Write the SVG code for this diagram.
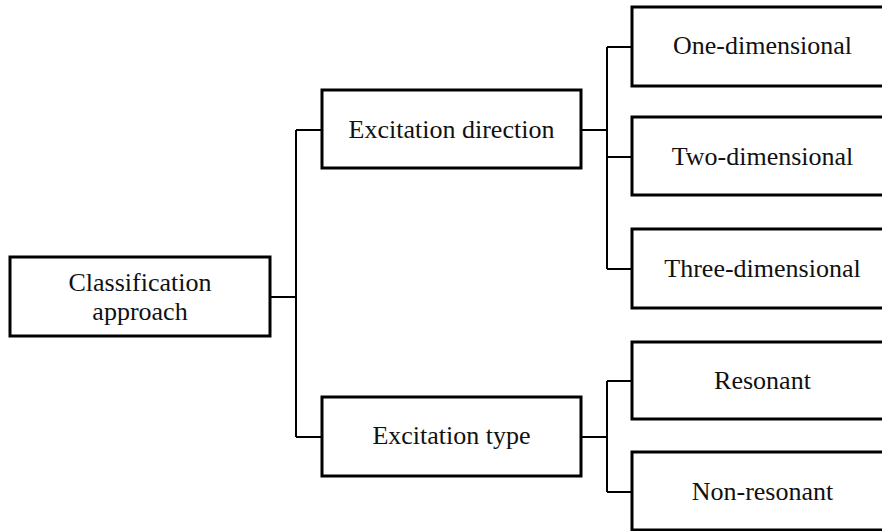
<svg xmlns="http://www.w3.org/2000/svg" width="882" height="531" viewBox="0 0 882 531">
<style>
.box{fill:#fff;stroke:#000;stroke-width:3}
.lbl{font-family:"Liberation Serif","Times New Roman",serif;font-size:26px;fill:#111;text-anchor:middle}
.con{fill:none;stroke:#000;stroke-width:2}
</style>
<rect width="882" height="531" fill="#fff"/>
<g id="connectors">
<path class="con" d="M270 297H296M296 130V437M296 130H322M296 437H322"/>
<path class="con" d="M581 130H607M607 47V269M607 47H632M607 157H632M607 269H632"/>
<path class="con" d="M581 437H607M607 381V492M607 381H632M607 492H632"/>
</g>
<g id="n_classification">
<rect class="box" x="10" y="257" width="260" height="79"/>
<text class="lbl" x="140" y="291">Classification</text>
<text class="lbl" x="140" y="320">approach</text>
</g>
<g id="n_direction">
<rect class="box" x="322" y="90" width="259" height="78"/>
<text class="lbl" x="451.5" y="138">Excitation direction</text>
</g>
<g id="n_type">
<rect class="box" x="322" y="397" width="259" height="79"/>
<text class="lbl" x="451.5" y="444">Excitation type</text>
</g>
<g id="n_one">
<rect class="box" x="632" y="7" width="261" height="79"/>
<text class="lbl" x="762.5" y="54">One-dimensional</text>
</g>
<g id="n_two">
<rect class="box" x="632" y="117" width="261" height="78"/>
<text class="lbl" x="762.5" y="165">Two-dimensional</text>
</g>
<g id="n_three">
<rect class="box" x="632" y="229" width="261" height="79"/>
<text class="lbl" x="762.5" y="277">Three-dimensional</text>
</g>
<g id="n_resonant">
<rect class="box" x="632" y="342" width="261" height="77"/>
<text class="lbl" x="762.5" y="389">Resonant</text>
</g>
<g id="n_nonresonant">
<rect class="box" x="632" y="452" width="261" height="78"/>
<text class="lbl" x="762.5" y="500">Non-resonant</text>
</g>
</svg>
